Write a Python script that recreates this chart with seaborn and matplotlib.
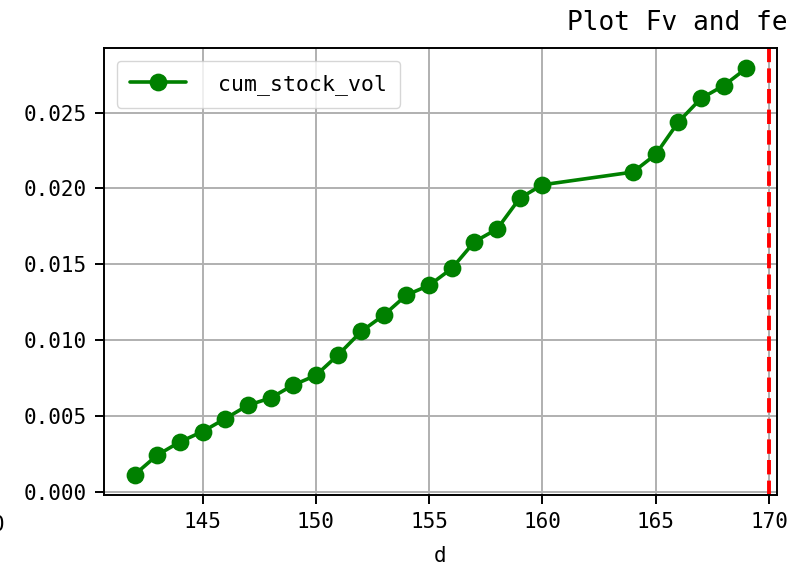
import matplotlib
matplotlib.use("Agg")
import matplotlib.pyplot as plt
import pandas as pd
import seaborn as sns

# data
days = [142, 143, 144, 145, 146, 147, 148, 149, 150, 151, 152, 153, 154,
        155, 156, 157, 158, 159, 160, 164, 165, 166, 167, 168, 169]
cum_stock_vol = [0.00115, 0.00244, 0.00331, 0.00399, 0.00484, 0.00572,
                 0.00620, 0.00705, 0.00769, 0.00906, 0.01058, 0.01166,
                 0.01298, 0.01362, 0.01473, 0.01649, 0.01733, 0.01936,
                 0.02024, 0.02108, 0.02224, 0.02438, 0.02593, 0.02677,
                 0.02791]
cutoff_day = 170

df = pd.DataFrame({'d': days, 'cum_stock_vol': cum_stock_vol})

sns.set_style("ticks")
plt.rcParams['font.family'] = ['DejaVu Sans Mono', 'DejaVu Sans']
plt.rcParams['axes.linewidth'] = 1.4
plt.rcParams['text.color'] = 'black'

fig = plt.figure(figsize=(7.9, 5.66), dpi=100)
ax = fig.add_axes([0.1316, 0.1254, 0.8519, 0.7898])

sns.lineplot(data=df, x='d', y='cum_stock_vol', ax=ax, color='green',
             marker='o', markersize=12.8, markeredgecolor='green',
             markeredgewidth=0, linewidth=2.6, label='cum_stock_vol')
ax.axvline(cutoff_day, color='red', linestyle='--', linewidth=2.8)

ax.grid(True, color='#b0b0b0', linewidth=1.4)
ax.set_axisbelow(True)
for s in ax.spines.values():
    s.set_color('black')
ax.tick_params(labelsize=15, length=6.5, width=1.4, colors='black', pad=6)
ax.set_xlabel('d', fontsize=15, color='black', labelpad=10)
ax.set_ylabel('')
ax.yaxis.set_major_formatter(matplotlib.ticker.FormatStrFormatter('%.3f'))

leg = ax.legend(loc='upper left', fontsize=15.5, handlelength=2.6,
                handletextpad=1.5, borderpad=0.6, borderaxespad=0.6,
                fancybox=True, framealpha=0.8)
for t in leg.get_texts():
    t.set_color('black')

fig.text(567 / 790, 1 - 30 / 566, 'Plot Fv and fe', fontsize=18.8,
         ha='left', va='baseline', color='black')
fig.text(-2 / 790, 1 - 531 / 566, '0', fontsize=15, ha='center',
         va='baseline', color='black')

fig.savefig('out.png', dpi=100)
